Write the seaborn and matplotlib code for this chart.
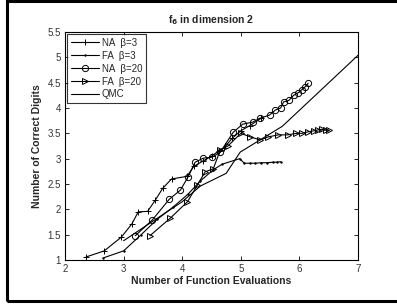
import matplotlib
matplotlib.use("Agg")
import matplotlib.pyplot as plt
import seaborn as sns
import pandas as pd
from matplotlib.patches import Rectangle

sns.set_theme(style="white")
plt.rcParams['font.family'] = ['Liberation Sans', 'DejaVu Sans']

na3_x = [2.36, 2.67, 2.96, 3.14, 3.25, 3.41, 3.54, 3.67, 3.82, 4.08, 4.20, 4.35, 4.50, 4.62, 4.72, 4.85, 5.00, 5.15, 5.35]
na3_y = [1.06, 1.18, 1.45, 1.71, 1.95, 1.96, 2.18, 2.42, 2.60, 2.65, 2.85, 2.95, 3.05, 3.15, 3.22, 3.40, 3.55, 3.65, 3.80]

fa3_x = [2.65, 3.00, 3.30, 3.57, 3.85, 4.10, 4.30, 4.53, 4.68, 4.98, 5.06, 5.15, 5.25, 5.35, 5.45, 5.55, 5.62, 5.68]
fa3_y = [1.04, 1.18, 1.50, 1.80, 2.05, 2.30, 2.55, 2.78, 2.89, 3.00, 2.91, 2.91, 2.91, 2.92, 2.92, 2.93, 2.93, 2.94]

na20_x = [3.20, 3.49, 3.78, 3.97, 4.10, 4.22, 4.36, 4.51, 4.65, 4.87, 5.03, 5.20, 5.33, 5.49, 5.59, 5.68, 5.73, 5.82, 5.90, 5.98, 6.04, 6.10, 6.15]
na20_y = [1.48, 1.79, 2.20, 2.38, 2.64, 2.93, 3.01, 3.03, 3.13, 3.52, 3.68, 3.72, 3.80, 3.86, 3.96, 4.00, 4.12, 4.15, 4.25, 4.30, 4.36, 4.42, 4.49]

fa20_x = [3.45, 3.80, 4.09, 4.26, 4.39, 4.53, 4.65, 4.78, 5.00, 5.16, 5.33, 5.47, 5.64, 5.80, 5.95, 6.05, 6.15, 6.25, 6.32, 6.38, 6.45, 6.50]
fa20_y = [1.48, 1.83, 2.15, 2.48, 2.74, 2.80, 3.17, 3.25, 3.50, 3.43, 3.37, 3.43, 3.47, 3.47, 3.50, 3.50, 3.53, 3.55, 3.57, 3.58, 3.56, 3.56]

qmc_x = [3.00, 3.40, 4.00, 4.31, 4.75, 4.99, 5.71, 7.00]
qmc_y = [1.38, 1.69, 2.15, 2.46, 2.71, 3.13, 3.64, 5.04]

x_ticks = [2, 3, 4, 5, 6, 7]
y_ticks = [1, 1.5, 2, 2.5, 3, 3.5, 4, 4.5, 5, 5.5]
y_tick_labels = ["1", "1.5", "2", "2.5", "3", "3.5", "4", "4.5", "5", "5.5"]

series = [
    ("NA  \u03b2=3", na3_x, na3_y, dict(marker="+", markersize=5, markerfacecolor="none")),
    ("FA  \u03b2=3", fa3_x, fa3_y, dict(marker=".", markersize=2)),
    ("NA  \u03b2=20", na20_x, na20_y, dict(marker="o", markersize=4.5, markerfacecolor="none")),
    ("FA  \u03b2=20", fa20_x, fa20_y, dict(marker=">", markersize=4.5, markerfacecolor="none")),
    ("QMC", qmc_x, qmc_y, dict(marker=None)),
]

fig = plt.figure(figsize=(3.97, 3.07), dpi=100)
ax = fig.add_axes([65/397, 1-260/307, (358-65)/397, (260-32)/307])

for name, xs, ys, style in series:
    df = pd.DataFrame({"x": xs, "y": ys})
    sns.lineplot(data=df, x="x", y="y", ax=ax, color="black", linewidth=0.8,
                 sort=False, estimator=None, label=name,
                 markeredgecolor="black", markeredgewidth=0.7, **style)

ax.set_xlim(2, 7)
ax.set_ylim(1, 5.5)
ax.set_xticks(x_ticks)
ax.set_yticks(y_ticks)
ax.set_yticklabels(y_tick_labels)
ax.tick_params(direction="in", length=3, width=0.6, labelsize=7, top=True, right=True,
               bottom=True, left=True, pad=3, colors="black")
for t in ax.get_xticklabels() + ax.get_yticklabels():
    t.set_color("#333333")
for s in ax.spines.values():
    s.set_color("black")
    s.set_linewidth(0.8)

ax.set_xlabel("Number of Function Evaluations", fontsize=7.5, fontweight="bold", labelpad=1)
ax.set_ylabel("Number of Correct Digits", fontsize=7.5, fontweight="bold", labelpad=4)
ax.set_title("f$_\\mathbf{6}$ in dimension 2", fontsize=7.5, fontweight="bold", pad=6)

leg = ax.legend(loc="upper left", fontsize=7, frameon=True, fancybox=False,
                edgecolor="black", handlelength=2.9, handletextpad=0.3,
                borderaxespad=0.25, labelspacing=0.3, borderpad=0.35)
leg.get_frame().set_linewidth(0.8)

fig.patches.append(Rectangle((7/397, 1-301/307), 1.2, 300/307, transform=fig.transFigure,
                             fill=False, edgecolor="black", linewidth=2.2, zorder=10))

fig.savefig("out.png", dpi=100)
